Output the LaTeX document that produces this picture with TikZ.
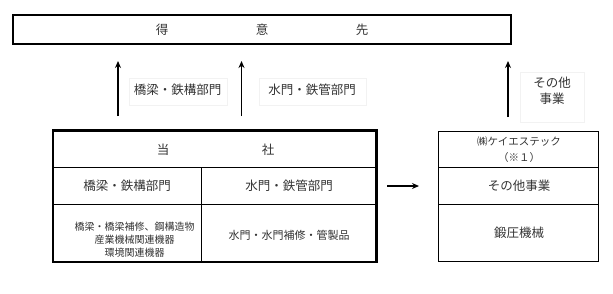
\documentclass[tikz,border=0pt]{standalone}
\usepackage{fontspec}
\setmainfont{Noto Sans CJK JP}
\usetikzlibrary{arrows.meta}
\begin{document}
\begin{tikzpicture}[x=1pt,y=-1pt,
  txt/.style={text=black!80,font=\fontsize{12.5}{14}\selectfont,inner sep=0pt},
  small/.style={text=black!80,font=\fontsize{10}{13}\selectfont,inner sep=0pt,align=center},
  thinbox/.style={draw=black,line width=1pt},
  lblbox/.style={draw=black!5,line width=0.8pt,fill=white},
  up/.style={-{Stealth[length=7pt,width=6pt]},line width=1.2pt}]
\useasboundingbox (0,0) rectangle (613,293);
% customers
\draw[line width=1.5pt] (13,15) rectangle (511,44);
\node[txt] (t1) at (162,30) {得};
\node[txt] (t2) at (262,30) {意};
\node[txt] (t3) at (362,30) {先};
% arrows up
\coordinate (a1s) at (118,116); \coordinate (a1e) at (118,61);
\coordinate (a2s) at (241.5,116); \coordinate (a2e) at (241.5,61);
\coordinate (a3s) at (508,117); \coordinate (a3e) at (508,61);
\draw[up] (a1s) -- (a1e);
\draw[up] (a2s) -- (a2e);
\draw[up] (a3s) -- (a3e);
% labels
\draw[lblbox] (129,78) rectangle (227,105);
\node[txt] (l1) at (177.5,90) {橋梁・鉄構部門};
\draw[lblbox] (259,78) rectangle (366,105);
\node[txt] (l2) at (312,90) {水門・鉄管部門};
\draw[lblbox] (520,72) rectangle (584,122);
\node[txt,align=center,font=\fontsize{12.5}{16}\selectfont] (l3) at (552,91) {その他\\事業};
% main company
\draw[line width=1pt] (53,167.5) -- (377,167.5);
\draw[line width=1pt] (53,204.5) -- (377,204.5);
\draw[line width=1pt] (201.5,167.5) -- (201.5,262);
\draw[line width=2.6pt] (53,130.5) rectangle (376.5,262);
\node[txt] (c1) at (163,150) {当};
\node[txt] (c2) at (268,150) {社};
\node[txt] (d1) at (127,186) {橋梁・鉄構部門};
\node[txt] (d2) at (289,186) {水門・鉄管部門};
\node[small] (p1) at (134.5,239.5) {橋梁・橋梁補修、鋼構造物\\産業機械関連機器\\環境関連機器};
\node[small,font=\fontsize{11}{13}\selectfont] (p2) at (289,235) {水門・水門補修・管製品};
% arrow right
\coordinate (rs) at (387,186); \coordinate (re) at (419,186);
\draw[-{Stealth[length=7pt,width=6pt]},line width=1.2pt] (rs) -- (re);
% right box
\draw[thinbox] (438,131) rectangle (598,261.5);
\draw[thinbox] (438,167.5) -- (598,167.5);
\draw[thinbox] (438,204) -- (598,204);
\node[small,font=\fontsize{10.5}{15.5}\selectfont] (k1) at (519,149.5) {㈱ケイエステック\\（※１）};
\node[txt] (k2) at (519,186) {その他事業};
\node[txt] (k3) at (519,233) {鍛圧機械};
\end{tikzpicture}
\end{document}
